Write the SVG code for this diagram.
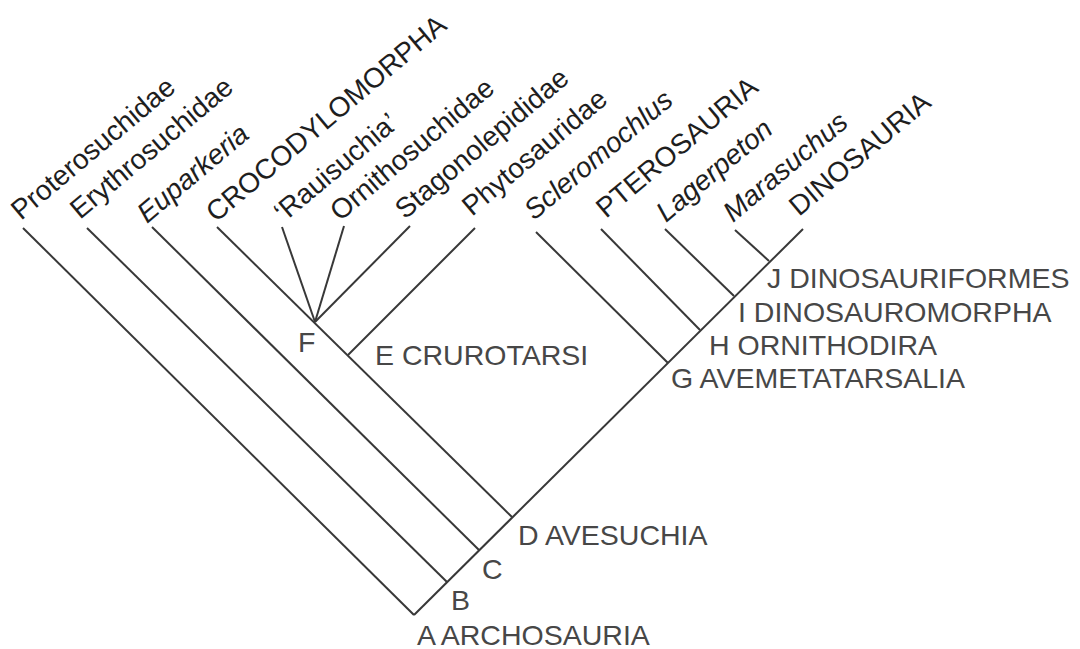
<svg xmlns="http://www.w3.org/2000/svg" width="1080" height="649" viewBox="0 0 1080 649">
<style>
.ln{stroke:#383838;stroke-width:2;fill:none}
.leaf{font-family:"Liberation Sans",Arial,sans-serif;font-size:28px;fill:#1e1e1e}
.it{font-style:italic}
.nd{font-family:"Liberation Sans",Arial,sans-serif;font-size:28.5px;fill:#474747}
</style>
<rect width="1080" height="649" fill="#fff"/>
<g id="connectors">
<path class="ln" d="M414,615 L23,228"/>
<path class="ln" d="M414,615 L803,229"/>
<path class="ln" d="M447,582 L87,228"/>
<path class="ln" d="M479,550 L152,227"/>
<path class="ln" d="M512,517 L217,227"/>
<path class="ln" d="M348,355 L475,228"/>
<path class="ln" d="M315,322 L282,227"/>
<path class="ln" d="M315,322 L344,226"/>
<path class="ln" d="M315,322 L410,226"/>
<path class="ln" d="M668,363 L536,232"/>
<path class="ln" d="M700,330 L601,229"/>
<path class="ln" d="M734,296 L665,229"/>
<path class="ln" d="M769,261 L735,230"/>
</g>
<g id="taxa">
<g id="proterosuchidae"><text class="leaf" transform="translate(21,221) rotate(-40)">Proterosuchidae</text></g>
<g id="erythrosuchidae"><text class="leaf" transform="translate(80,220) rotate(-40)">Erythrosuchidae</text></g>
<g id="euparkeria"><text class="leaf it" transform="translate(147,224) rotate(-40)">Euparkeria</text></g>
<g id="crocodylomorpha"><text class="leaf" transform="translate(216,223) rotate(-40)">CROCODYLOMORPHA</text></g>
<g id="rauisuchia"><text class="leaf" transform="translate(284,223) rotate(-40)">‘Rauisuchia’</text></g>
<g id="ornithosuchidae"><text class="leaf" transform="translate(340,222) rotate(-40)">Ornithosuchidae</text></g>
<g id="stagonolepididae"><text class="leaf" transform="translate(405,220) rotate(-40)">Stagonolepididae</text></g>
<g id="phytosauridae"><text class="leaf" transform="translate(472,217) rotate(-40)">Phytosauridae</text></g>
<g id="scleromochlus"><text class="leaf it" transform="translate(534,221) rotate(-40)">Scleromochlus</text></g>
<g id="pterosauria"><text class="leaf" transform="translate(606,219) rotate(-40)">PTEROSAURIA</text></g>
<g id="lagerpeton"><text class="leaf it" transform="translate(666,223) rotate(-40)">Lagerpeton</text></g>
<g id="marasuchus"><text class="leaf it" transform="translate(733,223) rotate(-40)">Marasuchus</text></g>
<g id="dinosauria"><text class="leaf" transform="translate(799,217) rotate(-40)">DINOSAURIA</text></g>
</g>
<g id="nodes">
<g id="node-a"><text class="nd" x="417" y="645">A ARCHOSAURIA</text></g>
<g id="node-b"><text class="nd" x="451" y="610">B</text></g>
<g id="node-c"><text class="nd" x="482" y="579">C</text></g>
<g id="node-d"><text class="nd" x="518" y="545">D AVESUCHIA</text></g>
<g id="node-e"><text class="nd" x="375" y="365">E CRUROTARSI</text></g>
<g id="node-f"><text class="nd" x="298" y="352">F</text></g>
<g id="node-g"><text class="nd" x="671" y="388">G AVEMETATARSALIA</text></g>
<g id="node-h"><text class="nd" x="709" y="355">H ORNITHODIRA</text></g>
<g id="node-i"><text class="nd" x="738" y="322">I DINOSAUROMORPHA</text></g>
<g id="node-j"><text class="nd" x="767" y="288">J DINOSAURIFORMES</text></g>
</g>
</svg>
